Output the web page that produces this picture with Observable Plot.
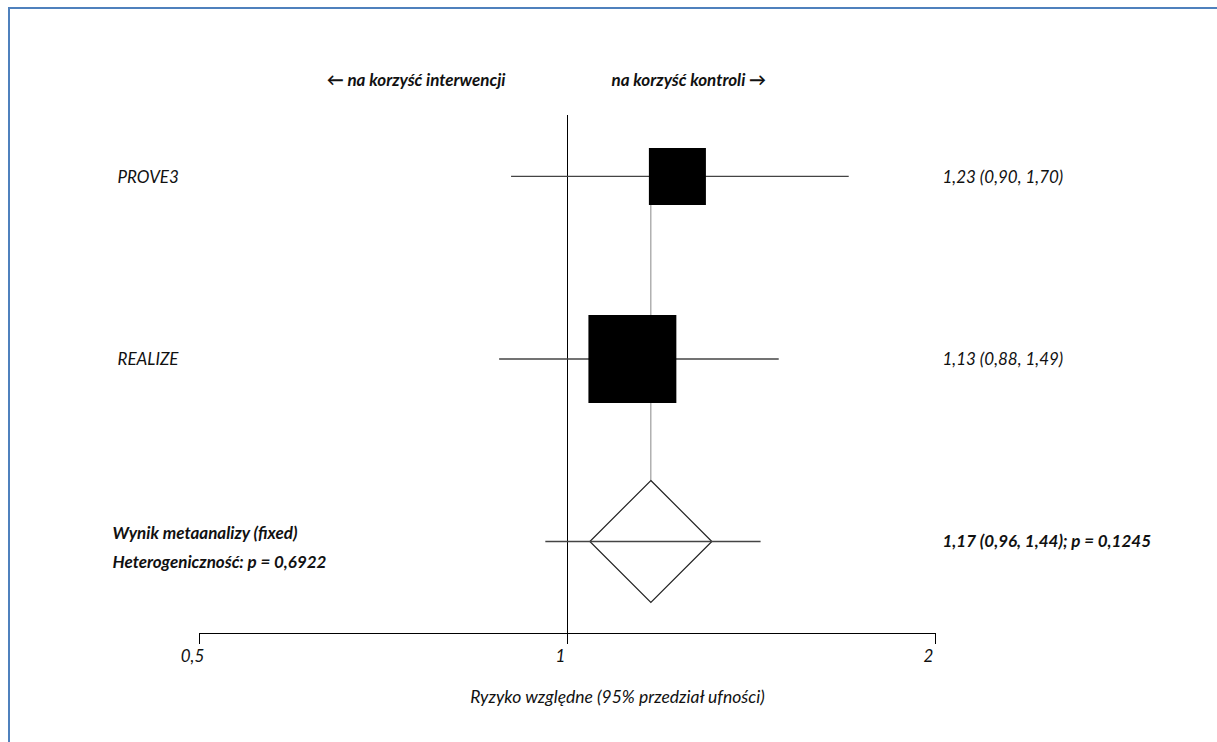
<!DOCTYPE html>
<html>
<head>
<meta charset="utf-8">
<script src="https://cdn.jsdelivr.net/npm/d3@7"></script>
<script src="https://cdn.jsdelivr.net/npm/@observablehq/plot@0.6"></script>
<style>
  html, body { margin: 0; padding: 0; background: #fff; overflow: hidden; }
  #wrap { position: relative; width: 1217px; height: 742px; overflow: hidden; }
  #frame { position: absolute; left: 8px; top: 7px; width: 1300px; height: 900px;
           border: 2px solid #4F81BD; box-sizing: border-box; }
  #chart { position: absolute; left: 0; top: 0; }
</style>
</head>
<body>
<div id="wrap"><div id="frame"></div><div id="chart"></div></div>
<script>
// ---- data ----
const studies = ["PROVE3", "REALIZE"];
const rr      = [1.23, 1.13];
const lo      = [0.90, 0.88];
const hi      = [1.70, 1.49];
const weights = [29.6, 70.4];   // % weight (estimated from square areas)

const metaLabel = "Wynik metaanalizy (fixed)";
const hetLabel  = "Heterogeniczność: p = 0,6922";
const metaRR = 1.17, metaLo = 0.96, metaHi = 1.44;
const metaP  = "0,1245";

const xTicks = [0.5, 1, 2];
const headerLeft  = "← na korzyść interwencji";
const headerRight = "na korzyść kontroli →";
const xLabel = "Ryzyko względne (95% przedział ufności)";

// ---- helpers ----
const f2 = v => d3.format(".2f")(v).replace(".", ",");
const rows = studies.map((s, i) => ({
  name: s, rr: rr[i], lo: lo[i], hi: hi[i], w: weights[i], row: i,
  txt: `${f2(rr[i])} (${f2(lo[i])}, ${f2(hi[i])})`
}));
const meta = [{
  rr: metaRR, lo: metaLo, hi: metaHi, row: studies.length,
  left: metaLabel + "\n" + hetLabel,
  txt: `${f2(metaRR)} (${f2(metaLo)}, ${f2(metaHi)}); p = ${metaP}`
}];

const squareSym = { draw(ctx, size) { const h = Math.sqrt(size / Math.PI); ctx.rect(-h, -h, 2 * h, 2 * h); } };
const diamondSym = { draw(ctx, size) { const h = Math.sqrt(size / Math.PI);
  ctx.moveTo(0, -h); ctx.lineTo(h, 0); ctx.lineTo(0, h); ctx.lineTo(-h, 0); ctx.closePath(); } };

const FONT = "Lato, 'Open Sans', sans-serif";
const TXT = "#111";
const FS = 17;

const chart = Plot.plot({
  width: 1217, height: 742,
  marginLeft: 199, marginRight: 282, marginTop: 115, marginBottom: 109,
  style: { fontFamily: FONT, fontSize: FS + "px", color: TXT, background: "transparent" },
  x: { type: "log", domain: [0.5, 2] },
  y: { domain: [-0.334, 2.504], reverse: true, axis: null },
  r: { type: "sqrt", domain: [0, 100], range: [0, 52.4] },
  marks: [
    Plot.frame({ anchor: "bottom", stroke: "#000", strokeWidth: 1 }),
    // tick marks only
    Plot.axisX({ ticks: xTicks, tickSize: 11, tickFormat: () => "", stroke: "#000", label: null }),
    // tick labels only
    Plot.axisX({ ticks: xTicks, tickSize: 0, tickPadding: 16, dx: -7,
      tickFormat: d => d3.format("~g")(d).replace(".", ","),
      fontStyle: "italic", fontSize: FS, fill: TXT, label: null }),
    Plot.ruleX(meta, { x: "rr", y1: 0, y2: "row", stroke: "#888", strokeWidth: 1 }),
    Plot.ruleX([1], { stroke: "#000", strokeWidth: 1 }),
    Plot.ruleY(rows, { y: "row", x1: "lo", x2: "hi", stroke: "#444", strokeWidth: 1.3 }),
    Plot.dot(rows, { x: "rr", y: "row", r: "w", symbol: squareSym, fill: "#000", stroke: null }),
    Plot.dot(meta, { x: "rr", y: "row", r: 61, symbol: diamondSym, fill: "#fff", stroke: "#222", strokeWidth: 1.2 }),
    Plot.ruleY(meta, { y: "row", x1: "lo", x2: "hi", stroke: "#444", strokeWidth: 1.3 }),
    // left labels
    Plot.text(rows, { y: "row", text: "name", frameAnchor: "left", textAnchor: "start", dx: -82, dy: 1,
      fontStyle: "italic", fontSize: FS, fill: TXT }),
    Plot.text(meta, { y: "row", text: "left", frameAnchor: "left", textAnchor: "start", dx: -87, dy: 3,
      lineHeight: 1.65, fontStyle: "italic", fontWeight: "bold", fontSize: FS, fill: TXT }),
    // right labels
    Plot.text(rows, { y: "row", text: "txt", frameAnchor: "right", textAnchor: "start", dx: 7, dy: 1,
      fontStyle: "italic", fontSize: FS, fill: TXT }),
    Plot.text(meta, { y: "row", text: "txt", frameAnchor: "right", textAnchor: "start", dx: 7, dy: 0,
      fontStyle: "italic", fontWeight: "bold", fontSize: FS, fill: TXT }),
    // headers
    Plot.text([headerLeft], { x: () => 1, text: d => d, frameAnchor: "top", textAnchor: "end", dx: -62, dy: -42,
      fontStyle: "italic", fontWeight: "bold", fontSize: FS, fill: TXT }),
    Plot.text([headerRight], { x: () => 1, text: d => d, frameAnchor: "top", textAnchor: "start", dx: 44, dy: -42,
      fontStyle: "italic", fontWeight: "bold", fontSize: FS, fill: TXT }),
    // x label
    Plot.text([xLabel], { text: d => d, frameAnchor: "bottom", dy: 69, dx: 50,
      fontStyle: "italic", fontSize: 17.5, fill: TXT })
  ]
});
document.getElementById("chart").appendChild(chart);
</script>
</body>
</html>
